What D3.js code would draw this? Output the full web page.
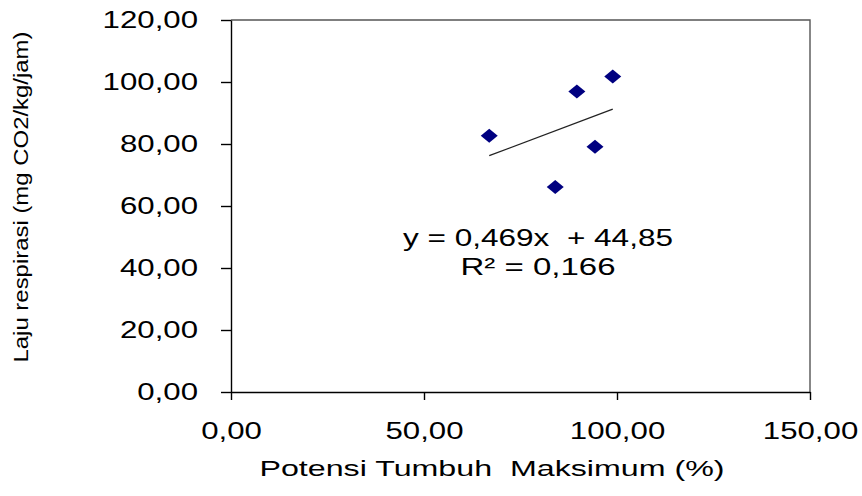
<!DOCTYPE html>
<html>
<head>
<meta charset="utf-8">
<script src="https://cdnjs.cloudflare.com/ajax/libs/d3/7.8.5/d3.min.js"></script>
<style>
  body { margin: 0; background: #fff; }
  text { font-family: "Liberation Sans", Arial, sans-serif; fill: #000; white-space: pre; }
</style>
</head>
<body>
<div id="viz"></div>
<script>
// data
var potensi = [66.9, 89.6, 98.9, 94.3, 84.0];      // x: Potensi Tumbuh Maksimum (%)
var respirasi = [82.7, 96.9, 101.8, 79.1, 66.1];   // y: Laju respirasi
var xTicks = [0, 50, 100, 150];
var yTicks = [0, 20, 40, 60, 80, 100, 120];
var slope = 0.469, intercept = 44.85, r2 = 0.166;

var width = 862,
    height = 496;

var svg = d3.select("#viz")
    .append("svg")
    .attr("width", width)
    .attr("height", height);

var plotLeft = 231, plotRight = 810, plotTop = 20, plotBottom = 392;

var x = d3.scaleLinear().domain([0, 150]).range([plotLeft, plotRight]);
var y = d3.scaleLinear().domain([0, 120]).range([plotBottom, plotTop]);

var idLocale = d3.formatLocale({decimal: ",", thousands: ".", grouping: [3], currency: ["", ""]});
var fmt = idLocale.format(".2f");

// glyphs in the original are drawn wide, so stretch text along its length
function stretch(sel, k) {
  sel.each(function() {
    var w = this.getComputedTextLength();
    this.setAttribute("textLength", w * k);
    this.setAttribute("lengthAdjust", "spacingAndGlyphs");
  });
}

// plot frame (top + right in grey)
svg.append("path")
    .attr("d", "M" + plotLeft + "," + plotTop + "H" + plotRight + "V" + plotBottom)
    .attr("fill", "none")
    .attr("stroke", "#555")
    .attr("stroke-width", 1.4);

// ****************** Axes ***************************
var gx = svg.append("g")
    .attr("transform", "translate(0," + plotBottom + ")")
    .call(d3.axisBottom(x).tickValues(xTicks).tickFormat(fmt).tickSize(8).tickSizeOuter(0).tickPadding(22));

var gy = svg.append("g")
    .attr("transform", "translate(" + plotLeft + ",0)")
    .call(d3.axisLeft(y).tickValues(yTicks).tickFormat(fmt).tickSize(10).tickSizeOuter(0).tickPadding(23));

[gx, gy].forEach(function(g) {
  g.select(".domain").attr("stroke", "#000").attr("stroke-width", 1.4);
  g.selectAll(".tick line").attr("stroke", "#000").attr("stroke-width", 1.4);
  g.selectAll(".tick text")
      .attr("fill", "#000")
      .style("font-family", "'Liberation Sans', Arial, sans-serif")
      .style("font-size", "24px")
      .call(stretch, 1.3);
});

// ****************** Trendline ***************************
var xExt = d3.extent(potensi);
svg.append("line")
    .attr("x1", x(xExt[0]))
    .attr("y1", y(slope * xExt[0] + intercept))
    .attr("x2", x(xExt[1]))
    .attr("y2", y(slope * xExt[1] + intercept))
    .attr("stroke", "#222")
    .attr("stroke-width", 1.3);

// ****************** Points ***************************
var pts = potensi.map(function(d, i) { return {x: d, y: respirasi[i]}; });
svg.append("g")
  .selectAll("path")
  .data(pts)
  .enter().append("path")
    .attr("d", "M0,-7L8.5,0L0,7L-8.5,0Z")
    .attr("transform", function(d) { return "translate(" + x(d.x) + "," + y(d.y) + ")"; })
    .attr("fill", "#000080");

// ****************** Labels ***************************
var eqX = 538;
svg.append("text")
    .attr("x", eqX)
    .attr("y", 246)
    .attr("text-anchor", "middle")
    .style("font-size", "24px")
    .text("y = " + idLocale.format(".3f")(slope) + "x  + " + idLocale.format(".2f")(intercept))
    .attr("textLength", 270)
    .attr("lengthAdjust", "spacingAndGlyphs");

svg.append("text")
    .attr("x", eqX)
    .attr("y", 275)
    .attr("text-anchor", "middle")
    .style("font-size", "24px")
    .text("R\u00b2 = " + idLocale.format(".3f")(r2))
    .attr("textLength", 155)
    .attr("lengthAdjust", "spacingAndGlyphs");

svg.append("text")
    .attr("x", 492)
    .attr("y", 476)
    .attr("text-anchor", "middle")
    .style("font-size", "22px")
    .text("Potensi Tumbuh  Maksimum (%)")
    .attr("textLength", 465)
    .attr("lengthAdjust", "spacingAndGlyphs");

svg.append("text")
    .attr("transform", "translate(28,197) rotate(-90)")
    .attr("text-anchor", "middle")
    .style("font-size", "20px")
    .text("Laju respirasi (mg CO2/kg/jam)")
    .attr("textLength", 331)
    .attr("lengthAdjust", "spacingAndGlyphs");
</script>
</body>
</html>
